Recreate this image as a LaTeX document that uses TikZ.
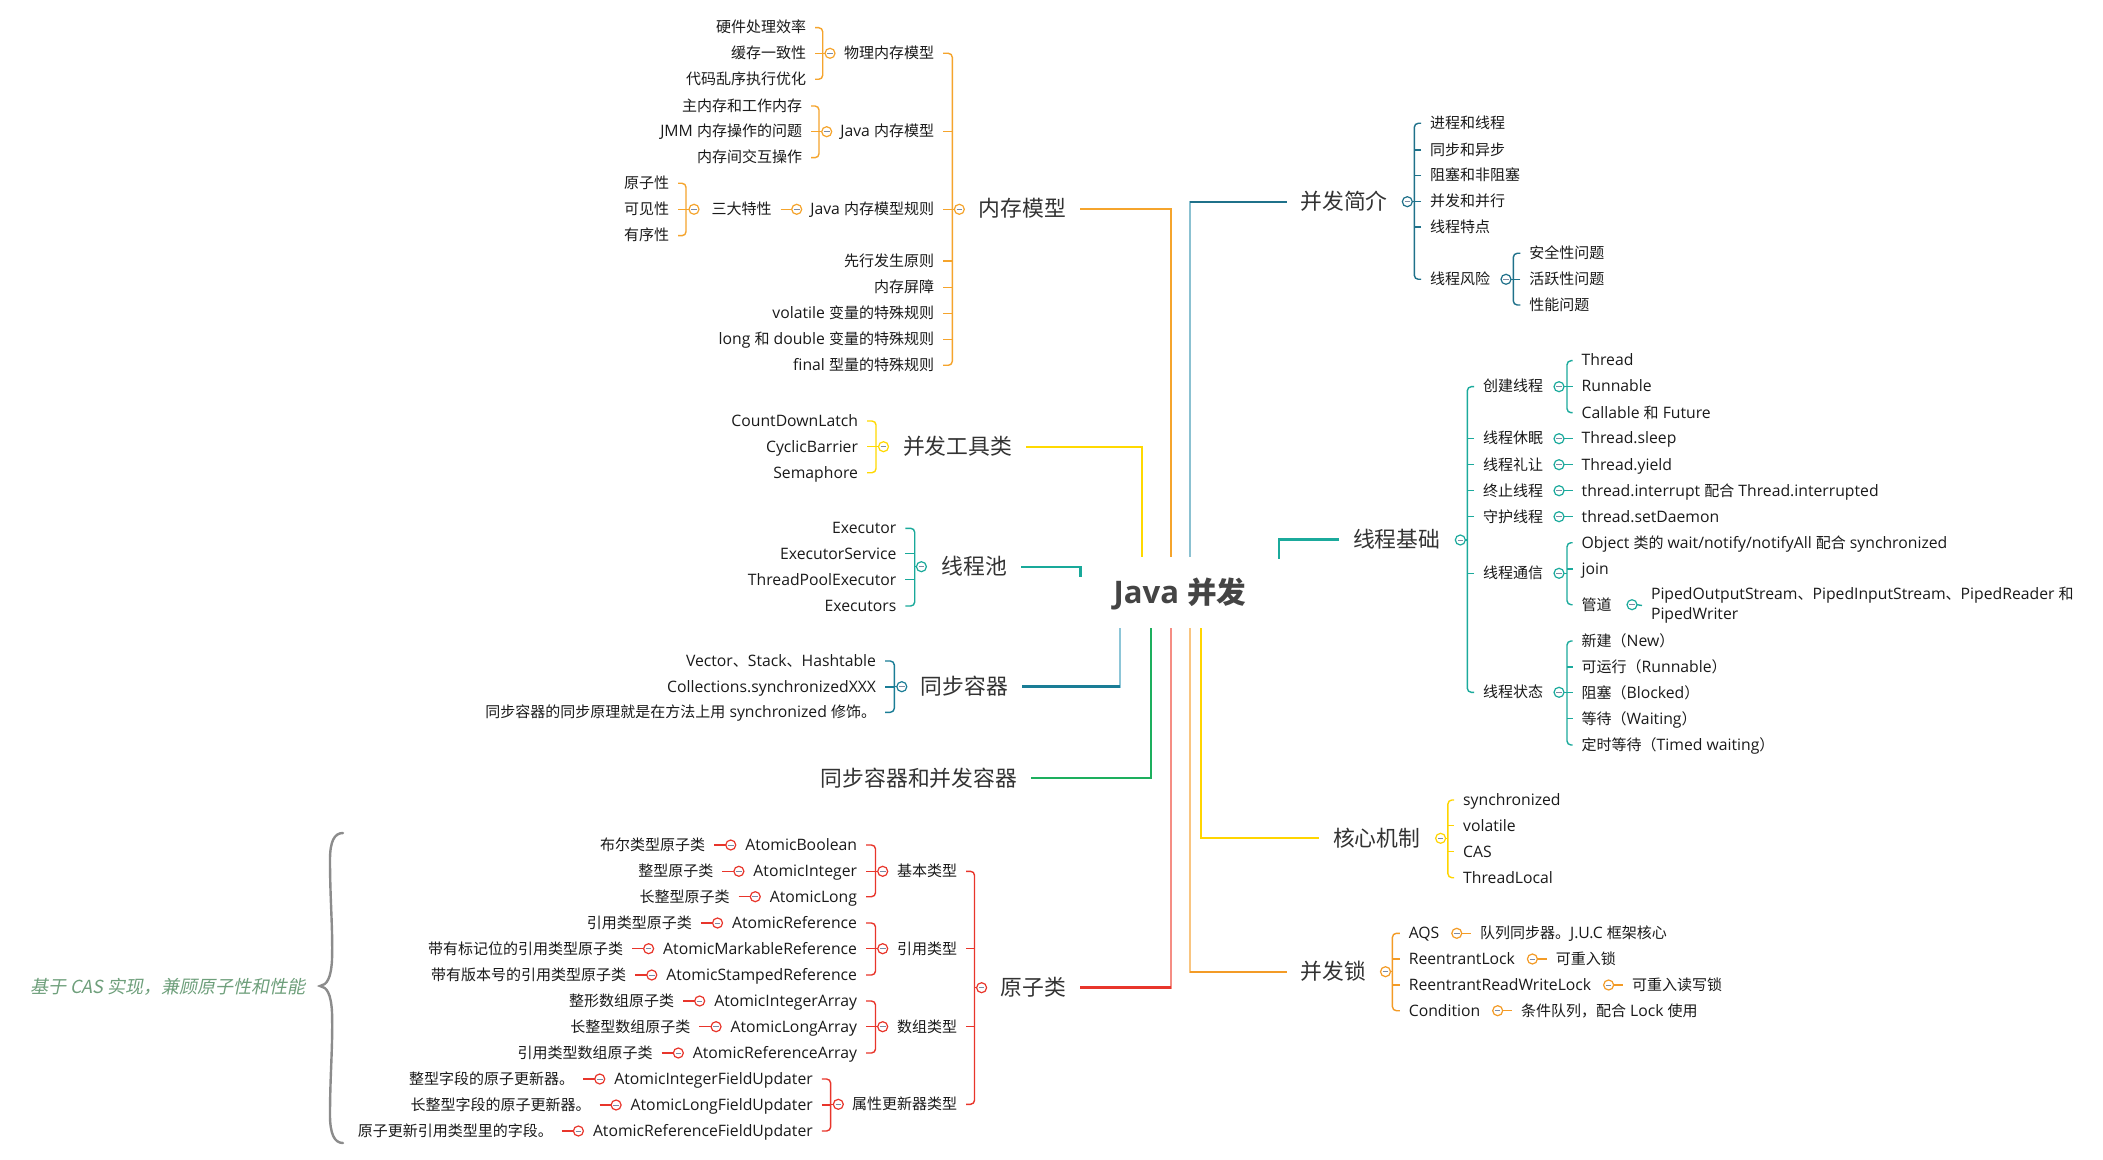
\documentclass[tikz,border=0pt]{standalone}
\usepackage{fontspec}
\usetikzlibrary{positioning}
\setmainfont{Open Sans}[Scale=1.05]
\newfontfamily\latinfont{Open Sans}[Scale=1.05]
\newfontfamily\cjkfont{Noto Sans CJK SC}
\newfontfamily\notefont{Noto Sans CJK SC}[FakeSlant=0.2]
\newXeTeXintercharclass\cjkcls
\makeatletter
\count@="2E80
\loop
 \XeTeXcharclass\count@=\cjkcls
 \ifnum\count@<"9FFF \advance\count@\@ne
\repeat
\count@="FF00
\loop
 \XeTeXcharclass\count@=\cjkcls
 \ifnum\count@<"FFEF \advance\count@\@ne
\repeat
\makeatother
\XeTeXinterchartoks 0 \cjkcls = {\cjkfont}
\XeTeXinterchartoks 4095 \cjkcls = {\cjkfont}
\XeTeXinterchartoks \cjkcls 0 = {\latinfont}
\XeTeXinterchartoks \cjkcls 4095 = {\latinfont}
\XeTeXinterchartokenstate=1

\definecolor{cMem}{HTML}{F5A42C}
\definecolor{cTool}{HTML}{FFD900}
\definecolor{cPool}{HTML}{19A99A}
\definecolor{cSync}{HTML}{1A7D96}
\definecolor{cSyncL}{HTML}{8DC6D8}
\definecolor{cCont}{HTML}{1DAF5E}
\definecolor{cAtom}{HTML}{E8352B}
\definecolor{cAtomL}{HTML}{F58D84}
\definecolor{cLock}{HTML}{F39B26}
\definecolor{cLockL}{HTML}{F9C580}
\definecolor{cCore}{HTML}{FFD500}
\definecolor{cThb}{HTML}{1BAA9C}
\definecolor{cIntro}{HTML}{1F718A}
\definecolor{cIntroL}{HTML}{8BC1D1}
\definecolor{cNote}{HTML}{6E9F7B}
\definecolor{cBrace}{HTML}{8C8C8C}
\definecolor{cMinus}{HTML}{7C8AA3}
\definecolor{cText}{HTML}{1A1A1A}
\definecolor{cTopic}{HTML}{333333}
\definecolor{cRoot}{HTML}{444444}

\newcommand\grpL[6]{%
 \draw[br=#1] (#3.east) -| (#2) |- (#4.east);
 \foreach \m in {#5} {\draw[br=#1] (\m.east) -- (\m.east -| #2);}
 \draw[br=#1] (#2) -- (#6.west);
}
\newcommand\grpR[6]{%
 \draw[br=#1] (#3.west) -| (#2) |- (#4.west);
 \foreach \m in {#5} {\draw[br=#1] (\m.west) -- (\m.west -| #2);}
 \draw[br=#1] (#2) -- (#6.east);
}
\newcommand\leafL[4]{%
 \node[coll=#1, left=0.3pt of #2] (#3c) {};
 \node[leaf, left=5.8pt of #3c] (#3) {#4};
 \draw[br=#1] (#3.east) -- (#3c.west);
}
\newcommand\leafR[4]{%
 \node[coll=#1, right=1.7pt of #2] (#3c) {};
 \node[leaf, right=4.7pt of #3c] (#3) {#4};
 \draw[br=#1] (#3c.east) -- (#3.west);
}

\begin{document}
\begin{tikzpicture}[x=0.5pt,y=-0.5pt,
 leaf/.style={font=\fontsize{7.5pt}{10pt}\selectfont, text=cText, inner xsep=4.5pt, inner ysep=0pt, outer sep=0pt, text height=6.4pt, text depth=1.1pt},
 topic/.style={font=\fontsize{10.9pt}{13pt}\selectfont, text=cTopic, inner xsep=7pt, inner ysep=0pt, outer sep=0pt, text height=9.3pt, text depth=1.6pt},
 rootnode/.style={font=\fontsize{14.8pt}{17pt}\selectfont\bfseries, text=cRoot, inner sep=0pt},
 coll/.style={circle, draw=#1, fill=white, line width=0.6pt, minimum size=5pt, inner sep=0pt, outer sep=0pt,
   path picture={\draw[line width=0.5pt, draw=cMinus] ([xshift=-1.4pt]path picture bounding box.center) -- ([xshift=1.4pt]path picture bounding box.center);}},
 br/.style={draw=#1, line width=0.7pt, rounded corners=2pt},
 main/.style={draw=#1, line width=1.1pt},
]
\useasboundingbox (0,0) rectangle (2103,1160);
\fill[white] (0,0) rectangle (2103,1160);

% ---------- root ----------
\node[rootnode] (root) at (1180,594) {Java 并发};
\coordinate (rTool) at (1142.3,557);
\coordinate (rMem) at (1170.7,557);
\coordinate (rIntro) at (1190,557);
\coordinate (rPool) at (1080.5,577);
\coordinate (rThb) at (1279.3,559.3);
\coordinate (rSync) at (1119.7,628.3);
\coordinate (rCont) at (1151.3,628.3);
\coordinate (rAtom) at (1171,628.3);
\coordinate (rLock) at (1190,628.3);
\coordinate (rCore) at (1200.7,628.3);

% ---------- main topics ----------
\node[topic, anchor=east] (mem) at (1080,209.3) {内存模型};
\node[topic, anchor=east] (tool) at (1026,446.7) {并发工具类};
\node[topic, anchor=east] (pool) at (1021,566.7) {线程池};
\node[topic, anchor=east] (sync) at (1022,686.5) {同步容器};
\node[topic, anchor=east] (cont) at (1031,778.3) {同步容器和并发容器};
\node[topic, anchor=east] (atom) at (1080,987.5) {原子类};
\node[topic, anchor=west] (intro) at (1286.5,201.7) {并发简介};
\node[topic, anchor=west] (thb) at (1339,539.5) {线程基础};
\node[topic, anchor=west] (core) at (1319,838.3) {核心机制};
\node[topic, anchor=west] (lock) at (1286.5,971.7) {并发锁};

\draw[main=cMem] (mem.east) -| (rMem);
\draw[main=cTool] (tool.east) -| (rTool);
\draw[main=cPool] (pool.east) -| (rPool);
\draw[main=cIntroL] (intro.west) -| (rIntro);
\draw[main=cIntro] (intro.west) -- (intro.west -| rIntro);
\draw[main=cThb] (thb.west) -| (rThb);
\draw[main=cSyncL] (sync.east) -| (rSync);
\draw[main=cSync] (sync.east) -- (sync.east -| rSync);
\draw[main=cCont] (cont.east) -| (rCont);
\draw[main=cAtomL] (atom.east) -| (rAtom);
\draw[main=cAtom] (atom.east) -- (atom.east -| rAtom);
\draw[main=cLockL] (lock.west) -| (rLock);
\draw[main=cLock] (lock.west) -- (lock.west -| rLock);
\draw[main=cCore] (core.west) -| (rCore);

% ---------- 内存模型 ----------
\node[coll=cMem] (cm) at (959.3,209.3) {};
\coordinate (bm) at (952.3,209.3);
\node[leaf, anchor=east] (m1) at (943,53.3) {物理内存模型};
\node[leaf, anchor=east] (m2) at (943,131.7) {Java 内存模型};
\node[leaf, anchor=east] (m3) at (943,209.3) {Java 内存模型规则};
\node[leaf, anchor=east] (m4) at (943,261) {先行发生原则};
\node[leaf, anchor=east] (m5) at (943,287.3) {内存屏障};
\node[leaf, anchor=east] (m6) at (943,313.3) {volatile 变量的特殊规则};
\node[leaf, anchor=east] (m7) at (943,339.3) {long 和 double 变量的特殊规则};
\node[leaf, anchor=east] (m8) at (943,365.3) {final 型量的特殊规则};
\grpL{cMem}{bm}{m1}{m8}{m2,m3,m4,m5,m6,m7}{cm}

\node[coll=cMem] (cp) at (830,53.3) {};
\coordinate (bp) at (822.7,53.3);
\node[leaf, anchor=east] (p1) at (815,27.7) {硬件处理效率};
\node[leaf, anchor=east] (p2) at (815,53.3) {缓存一致性};
\node[leaf, anchor=east] (p3) at (815,79.3) {代码乱序执行优化};
\grpL{cMem}{bp}{p1}{p3}{p2}{cp}

\node[coll=cMem] (cj) at (826.7,131.7) {};
\coordinate (bj) at (819,131.7);
\node[leaf, anchor=east] (j1) at (811,106) {主内存和工作内存};
\node[leaf, anchor=east] (j2) at (811,131.7) {JMM 内存操作的问题};
\node[leaf, anchor=east] (j3) at (811,157.7) {内存间交互操作};
\grpL{cMem}{bj}{j1}{j3}{j2}{cj}

\node[coll=cMem] (cr) at (796.7,209.3) {};
\node[leaf, anchor=east] (s) at (780.7,209.3) {三大特性};
\draw[br=cMem] (s.east) -- (cr.west);
\node[coll=cMem] (cs) at (694,209.3) {};
\coordinate (bs) at (686,209.3);
\node[leaf, anchor=east] (t1) at (678,183.3) {原子性};
\node[leaf, anchor=east] (t2) at (678,209.3) {可见性};
\node[leaf, anchor=east] (t3) at (678,235.7) {有序性};
\grpL{cMem}{bs}{t1}{t3}{t2}{cs}

% ---------- 并发工具类 ----------
\node[coll=cTool] (ct) at (883.5,446.7) {};
\coordinate (bt) at (876,446.7);
\node[leaf, anchor=east] (u1) at (867,421) {CountDownLatch};
\node[leaf, anchor=east] (u2) at (867,446.7) {CyclicBarrier};
\node[leaf, anchor=east] (u3) at (867,472.7) {Semaphore};
\grpL{cTool}{bt}{u1}{u3}{u2}{ct}

% ---------- 线程池 ----------
\node[coll=cPool] (cpo) at (921.4,566.7) {};
\coordinate (bpo) at (914.7,566.7);
\node[leaf, anchor=east] (e1) at (905.4,528.3) {Executor};
\node[leaf, anchor=east] (e2) at (905.4,553.7) {ExecutorService};
\node[leaf, anchor=east] (e3) at (905.4,579.7) {ThreadPoolExecutor};
\node[leaf, anchor=east] (e4) at (905.4,606) {Executors};
\grpL{cPool}{bpo}{e1}{e4}{e2,e3}{cpo}

% ---------- 同步容器 ----------
\node[coll=cSync] (csy) at (901.8,686.7) {};
\coordinate (bsy) at (894.3,686.7);
\node[leaf, anchor=east] (y1) at (885,661) {Vector、Stack、Hashtable};
\node[leaf, anchor=east] (y2) at (885,687) {Collections.synchronizedXXX};
\node[leaf, anchor=east] (y3) at (885,712.3) {同步容器的同步原理就是在方法上用 synchronized 修饰。};
\grpL{cSync}{bsy}{y1}{y3}{y2}{csy}

% ---------- 原子类 ----------
\node[coll=cAtom] (ca) at (981.6,987.7) {};
\coordinate (ba) at (974.5,987.7);
\node[leaf, anchor=east] (a1) at (966,871.3) {基本类型};
\node[leaf, anchor=east] (a2) at (966,948.7) {引用类型};
\node[leaf, anchor=east] (a3) at (966,1026.7) {数组类型};
\node[leaf, anchor=east] (a4) at (966,1104.3) {属性更新器类型};
\grpL{cAtom}{ba}{a1}{a4}{a2,a3}{ca}

\node[coll=cAtom] (cab) at (882.7,871.3) {};
\coordinate (bab) at (875.5,871.3);
\node[leaf, anchor=east] (ab1) at (866,845) {AtomicBoolean};
\node[leaf, anchor=east] (ab2) at (866,871.3) {AtomicInteger};
\node[leaf, anchor=east] (ab3) at (866,896.7) {AtomicLong};
\grpL{cAtom}{bab}{ab1}{ab3}{ab2}{cab}
\leafL{cAtom}{ab1}{ab1x}{布尔类型原子类}
\leafL{cAtom}{ab2}{ab2x}{整型原子类}
\leafL{cAtom}{ab3}{ab3x}{长整型原子类}

\node[coll=cAtom] (car) at (882.7,948.7) {};
\coordinate (bar) at (875.5,948.7);
\node[leaf, anchor=east] (ar1) at (866,923) {AtomicReference};
\node[leaf, anchor=east] (ar2) at (866,948.7) {AtomicMarkableReference};
\node[leaf, anchor=east] (ar3) at (866,975) {AtomicStampedReference};
\grpL{cAtom}{bar}{ar1}{ar3}{ar2}{car}
\leafL{cAtom}{ar1}{ar1x}{引用类型原子类}
\leafL{cAtom}{ar2}{ar2x}{带有标记位的引用类型原子类}
\leafL{cAtom}{ar3}{ar3x}{带有版本号的引用类型原子类}

\node[coll=cAtom] (caa) at (882.7,1026.7) {};
\coordinate (baa) at (875.5,1026.7);
\node[leaf, anchor=east] (aa1) at (866,1001) {AtomicIntegerArray};
\node[leaf, anchor=east] (aa2) at (866,1026.7) {AtomicLongArray};
\node[leaf, anchor=east] (aa3) at (866,1053) {AtomicReferenceArray};
\grpL{cAtom}{baa}{aa1}{aa3}{aa2}{caa}
\leafL{cAtom}{aa1}{aa1x}{整形数组原子类}
\leafL{cAtom}{aa2}{aa2x}{长整型数组原子类}
\leafL{cAtom}{aa3}{aa3x}{引用类型数组原子类}

\node[coll=cAtom] (cau) at (838.3,1104.3) {};
\coordinate (bau) at (830.6,1104.3);
\node[leaf, anchor=east] (au1) at (821.8,1079) {AtomicIntegerFieldUpdater};
\node[leaf, anchor=east] (au2) at (821.8,1105) {AtomicLongFieldUpdater};
\node[leaf, anchor=east] (au3) at (821.8,1131) {AtomicReferenceFieldUpdater};
\grpL{cAtom}{bau}{au1}{au3}{au2}{cau}
\leafL{cAtom}{au1}{au1x}{整型字段的原子更新器。}
\leafL{cAtom}{au2}{au2x}{长整型字段的原子更新器。}
\leafL{cAtom}{au3}{au3x}{原子更新引用类型里的字段。}

% brace and note
\draw[draw=cBrace, line width=1.2pt, line cap=round]
 (343,833) .. controls (334,833) and (330,842) .. (330,860)
 .. controls (330,900) and (333,930) .. (332,960)
 .. controls (331,978) and (327,985) .. (320,986)
 .. controls (327,987) and (331,994) .. (332,1012)
 .. controls (333,1045) and (330,1075) .. (330,1115)
 .. controls (330,1133) and (334,1143) .. (343,1143);
\node[anchor=east, inner sep=0pt, text=cNote, font=\fontsize{9pt}{11pt}\selectfont] (note) at (306,986.7)
 {\XeTeXinterchartokenstate=0 \notefont 基于 CAS 实现，兼顾原子性和性能};

% ---------- 并发简介 ----------
\node[coll=cIntro] (ci) at (1407.3,201.7) {};
\coordinate (bi) at (1414.3,201.7);
\node[leaf, anchor=west] (i1) at (1421,123.3) {进程和线程};
\node[leaf, anchor=west] (i2) at (1421,150) {同步和异步};
\node[leaf, anchor=west] (i3) at (1421,175.7) {阻塞和非阻塞};
\node[leaf, anchor=west] (i4) at (1421,201.7) {并发和并行};
\node[leaf, anchor=west] (i5) at (1421,227) {线程特点};
\node[leaf, anchor=west] (i6) at (1421,279.3) {线程风险};
\grpR{cIntro}{bi}{i1}{i6}{i2,i3,i4,i5}{ci}

\node[coll=cIntro] (cri) at (1506,279.3) {};
\coordinate (bri) at (1513.3,279.3);
\node[leaf, anchor=west] (k1) at (1520.3,253.3) {安全性问题};
\node[leaf, anchor=west] (k2) at (1520.3,279.3) {活跃性问题};
\node[leaf, anchor=west] (k3) at (1520.3,305) {性能问题};
\grpR{cIntro}{bri}{k1}{k3}{k2}{cri}

% ---------- 线程基础 ----------
\node[coll=cThb] (ctb) at (1460.3,540) {};
\coordinate (btb) at (1467.3,540);
\node[leaf, anchor=west] (h1) at (1474,386.7) {创建线程};
\node[leaf, anchor=west] (h2) at (1474,438.7) {线程休眠};
\node[leaf, anchor=west] (h3) at (1474,464.7) {线程礼让};
\node[leaf, anchor=west] (h4) at (1474,490.7) {终止线程};
\node[leaf, anchor=west] (h5) at (1474,516.7) {守护线程};
\node[leaf, anchor=west] (h6) at (1474,573.3) {线程通信};
\node[leaf, anchor=west] (h7) at (1474,692.3) {线程状态};
\grpR{cThb}{btb}{h1}{h7}{h2,h3,h4,h5,h6}{ctb}

\node[coll=cThb] (ch1) at (1559,386.7) {};
\coordinate (bh1) at (1567,386.7);
\node[leaf, anchor=west] (n1) at (1572.7,360.7) {Thread};
\node[leaf, anchor=west] (n2) at (1572.7,386.7) {Runnable};
\node[leaf, anchor=west] (n3) at (1572.7,412.7) {Callable 和 Future};
\grpR{cThb}{bh1}{n1}{n3}{n2}{ch1}

\node[coll=cThb] (ch2) at (1559,438.7) {};
\node[leaf, anchor=west] (q2) at (1572.7,438.7) {Thread.sleep};
\draw[br=cThb] (ch2.east) -- (q2.west);
\node[coll=cThb] (ch3) at (1559,464.7) {};
\node[leaf, anchor=west] (q3) at (1572.7,464.7) {Thread.yield};
\draw[br=cThb] (ch3.east) -- (q3.west);
\node[coll=cThb] (ch4) at (1559,490.7) {};
\node[leaf, anchor=west] (q4) at (1572.7,490.7) {thread.interrupt 配合 Thread.interrupted};
\draw[br=cThb] (ch4.east) -- (q4.west);
\node[coll=cThb] (ch5) at (1559,516.7) {};
\node[leaf, anchor=west] (q5) at (1572.7,516.7) {thread.setDaemon};
\draw[br=cThb] (ch5.east) -- (q5.west);

\node[coll=cThb] (ch6) at (1559,573.3) {};
\coordinate (bh6) at (1567,573.3);
\node[leaf, anchor=west] (w1) at (1572.7,542.7) {Object 类的 wait/notify/notifyAll 配合 synchronized};
\node[leaf, anchor=west] (w2) at (1572.7,569) {join};
\node[leaf, anchor=west] (w3) at (1572.7,604.7) {管道};
\grpR{cThb}{bh6}{w1}{w3}{w2}{ch6}
\node[coll=cThb] (cw3) at (1632,604.7) {};
\node[anchor=west, align=left, font=\fontsize{7.5pt}{10pt}\selectfont, text=cText, inner xsep=4.5pt, inner ysep=0pt, outer sep=0pt] (pipe) at (1642,605.5)
 {PipedOutputStream、PipedInputStream、PipedReader 和\\PipedWriter};
\draw[br=cThb] (cw3.east) -- (pipe.west);

\node[coll=cThb] (ch7) at (1559,692.3) {};
\coordinate (bh7) at (1567,692.3);
\node[leaf, anchor=west] (z1) at (1572.7,641) {新建（New）};
\node[leaf, anchor=west] (z2) at (1572.7,667) {可运行（Runnable）};
\node[leaf, anchor=west] (z3) at (1572.7,692.7) {阻塞（Blocked）};
\node[leaf, anchor=west] (z4) at (1572.7,718.7) {等待（Waiting）};
\node[leaf, anchor=west] (z5) at (1572.7,745) {定时等待（Timed waiting）};
\grpR{cThb}{bh7}{z1}{z5}{z2,z3,z4}{ch7}

% ---------- 核心机制 ----------
\node[coll=cCore] (ck) at (1440.6,838.3) {};
\coordinate (bk) at (1447.9,838.3);
\node[leaf, anchor=west] (g1) at (1454.2,800) {synchronized};
\node[leaf, anchor=west] (g2) at (1454.2,825.7) {volatile};
\node[leaf, anchor=west] (g3) at (1454.2,851.7) {CAS};
\node[leaf, anchor=west] (g4) at (1454.2,877.7) {ThreadLocal};
\grpR{cCore}{bk}{g1}{g4}{g2,g3}{ck}

% ---------- 并发锁 ----------
\node[coll=cLock] (cl) at (1385.5,971.7) {};
\coordinate (bl) at (1392.4,971.7);
\node[leaf, anchor=west] (l1) at (1399.8,933.3) {AQS};
\node[leaf, anchor=west] (l2) at (1399.8,959) {ReentrantLock};
\node[leaf, anchor=west] (l3) at (1399.8,985) {ReentrantReadWriteLock};
\node[leaf, anchor=west] (l4) at (1399.8,1010.7) {Condition};
\grpR{cLock}{bl}{l1}{l4}{l2,l3}{cl}
\leafR{cLock}{l1}{l1x}{队列同步器。J.U.C 框架核心}
\leafR{cLock}{l2}{l2x}{可重入锁}
\leafR{cLock}{l3}{l3x}{可重入读写锁}
\leafR{cLock}{l4}{l4x}{条件队列，配合 Lock 使用}
\end{tikzpicture}
\end{document}
